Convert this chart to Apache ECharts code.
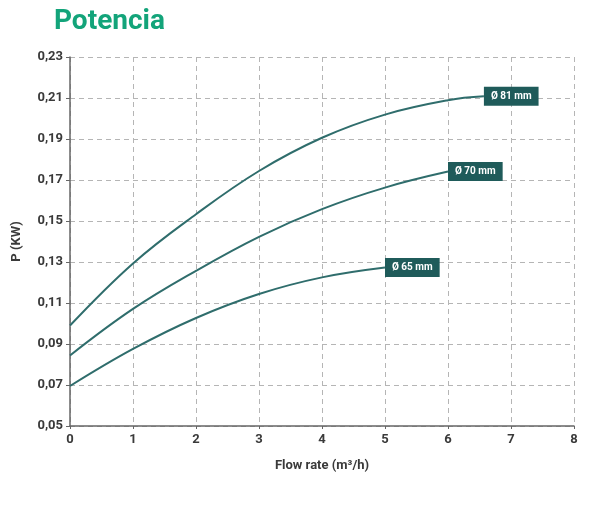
<!DOCTYPE html>
<html>
<head>
<meta charset="utf-8">
<script src="https://cdn.jsdelivr.net/npm/echarts@6/dist/echarts.min.js"></script>
<style>html,body{margin:0;padding:0;background:#fff;}#c{width:600px;height:510px;}</style>
</head>
<body>
<div id="c"></div>
<script>
var xTicks = [0, 1, 2, 3, 4, 5, 6, 7, 8];
var yTicks = ['0,05','0,07','0,09','0,11','0,13','0,15','0,17','0,19','0,21','0,23'];
var seriesNames = ['Ø 81 mm', 'Ø 70 mm', 'Ø 65 mm'];
var d81 = [[0,0.099],[1,0.1293],[2,0.1533],[3,0.1744],[4,0.1906],[5,0.2019],[6,0.2089],[6.57,0.2108]];
var d70 = [[0,0.0844],[1,0.1071],[2,0.1257],[3,0.1423],[4,0.1558],[5,0.1663],[6,0.1741]];
var d65 = [[0,0.0695],[1,0.0876],[2,0.1027],[3,0.1144],[4,0.1225],[5,0.1273]];

var lineColor = '#2f6d6c';
var boxColor = '#1f5b5a';
var txt = '#3a3a3a';

function mk(name, data) {
  return {
    type: 'line', name: name, data: data, smooth: 0.4,
    showSymbol: false, symbol: 'none',
    lineStyle: { color: lineColor, width: 2 },
    itemStyle: { color: lineColor },
    endLabel: {
      show: true, distance: 0,
      formatter: function () { return name; },
      backgroundColor: boxColor, color: '#fff',
      fontFamily: 'Roboto', fontSize: 10, fontWeight: 'bold',
      padding: [4, 7, 4, 7], lineHeight: 11
    }
  };
}

var chart = echarts.init(document.getElementById('c'));
chart.setOption({
  animation: false,
  backgroundColor: '#fff',
  title: {
    text: 'Potencia', left: 49, top: 3,
    textStyle: { color: '#13a47a', fontFamily: 'Roboto', fontWeight: 'bold', fontSize: 28 }
  },
  grid: { left: 70, right: 26, top: 57, bottom: 84 },
  xAxis: {
    type: 'value', min: xTicks[0], max: xTicks[xTicks.length - 1], interval: 1,
    name: 'Flow rate (m³/h)', nameLocation: 'middle', nameGap: 33,
    nameTextStyle: { color: txt, fontFamily: 'Roboto', fontSize: 13, fontWeight: 'bold' },
    axisLine: { lineStyle: { color: '#666', width: 1.5 } },
    axisTick: { show: true, length: 3, lineStyle: { color: '#666' } },
    axisLabel: { color: txt, fontFamily: 'Roboto', fontSize: 13, fontWeight: 'bold', margin: 7,
      formatter: function (v) { return String(v); } },
    splitLine: { show: true, lineStyle: { color: '#b5b5b5', type: [5, 4], width: 1 } }
  },
  yAxis: {
    type: 'value', min: 0.05, max: 0.23, interval: 0.02,
    name: 'P (KW)', nameLocation: 'middle', nameGap: 47, nameRotate: 90,
    nameTextStyle: { color: txt, fontFamily: 'Roboto', fontSize: 13, fontWeight: 'bold' },
    axisLine: { show: true, lineStyle: { color: '#666', width: 1.5 } },
    axisTick: { show: true, length: 4, lineStyle: { color: '#666' } },
    axisLabel: { color: txt, fontFamily: 'Roboto', fontSize: 13, fontWeight: 'bold', margin: 7,
      formatter: function (v) { var i = Math.round((v - 0.05) / 0.02); return yTicks[i]; } },
    splitLine: { show: true, lineStyle: { color: '#b5b5b5', type: [5, 4], width: 1 } }
  },
  series: [mk(seriesNames[0], d81), mk(seriesNames[1], d70), mk(seriesNames[2], d65)]
});
</script>
</body>
</html>
